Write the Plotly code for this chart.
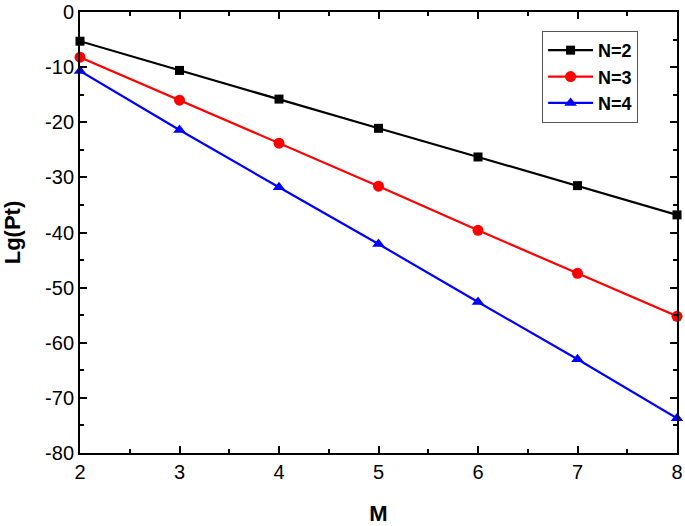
import plotly.graph_objects as go

M = [2, 3, 4, 5, 6, 7, 8]
n2 = [-5.3, -10.6, -15.8, -21.1, -26.3, -31.5, -36.8]
n3 = [-8.2, -16.0, -23.8, -31.6, -39.6, -47.4, -55.2]
n4 = [-10.7, -21.4, -31.8, -42.1, -52.6, -63.0, -73.7]
y_ticks = [0, -10, -20, -30, -40, -50, -60, -70, -80]
y_labels = ["0", "-10", "-20", "-30", "-40", "-50", "-60", "-70", "-80"]

series = [
    ("N=2", n2, "black", "square", 9),
    ("N=3", n3, "red", "circle", 11),
    ("N=4", n4, "blue", "triangle-up", 11),
]

fig = go.Figure()
for name, ys, col, sym, sz in series:
    fig.add_trace(go.Scatter(x=M, y=ys, name="<b>" + name + "</b>", mode="lines+markers",
                             line=dict(color=col, width=2.2),
                             marker=dict(symbol=sym, size=sz, color=col),
                             cliponaxis=False))

axis_common = dict(showline=True, linecolor="black", linewidth=2, mirror="ticks",
                   ticks="inside", ticklen=7, tickwidth=2, tickcolor="black",
                   showgrid=False, zeroline=False, automargin=False,
                   tickfont=dict(family="Arial", size=20, color="black"))

fig.update_xaxes(range=[2, 8], dtick=1,
                 title=dict(text="<b>M</b>", font=dict(family="Arial", size=22, color="black"), standoff=30),
                 minor=dict(ticks="inside", ticklen=4, tickwidth=2, tickcolor="black", dtick=0.5),
                 **axis_common)
fig.update_yaxes(range=[-80, 0], tickmode="array", tickvals=y_ticks, ticktext=y_labels,
                 title=dict(text="<b>Lg(Pt)</b>", font=dict(family="Arial", size=22, color="black"), standoff=27),
                 minor=dict(ticks="inside", ticklen=4, tickwidth=2, tickcolor="black", dtick=5),
                 **axis_common)

fig.update_layout(width=685, height=526, plot_bgcolor="white", paper_bgcolor="white",
                  margin=dict(l=80, r=8, t=12, b=73),
                  legend=dict(x=0.774, y=0.957, xanchor="left", yanchor="top",
                              bordercolor="#555", borderwidth=1, bgcolor="white",
                              font=dict(family="Arial", size=18, color="black"),
                              itemwidth=45, tracegroupgap=2),
                  showlegend=True)

fig.write_html("out.html", config={"displayModeBar": False},
               post_script="document.body.style.margin='0';")
